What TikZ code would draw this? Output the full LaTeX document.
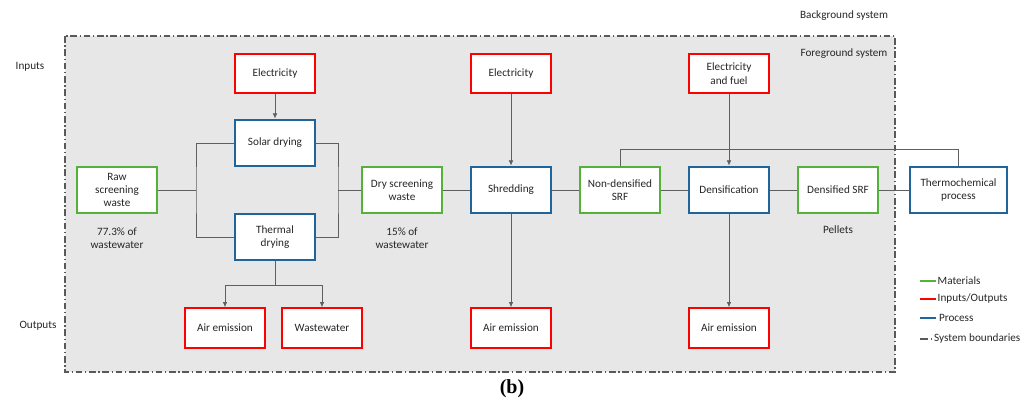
\documentclass[tikz,border=0pt]{standalone}
\usepackage{fontspec}
\setmainfont{Carlito}
\newfontfamily\capfont{Liberation Serif}
\usetikzlibrary{arrows.meta}

\definecolor{matgreen}{RGB}{84,178,58}
\definecolor{ioRed}{RGB}{255,0,0}
\definecolor{procblue}{RGB}{31,100,155}
\definecolor{sysgray}{RGB}{231,231,231}
\definecolor{linegray}{RGB}{95,95,95}

\tikzset{
  box/.style={rectangle, draw, line width=1.5pt, fill=white,
    minimum width=60pt, align=center, text=black!85,
    font=\fontsize{8.4}{10}\selectfont},
  material/.style={box, draw=matgreen, minimum height=35pt},
  inout/.style={box, draw=ioRed, minimum height=29.5pt},
  process/.style={box, draw=procblue, minimum height=35pt},
  flow/.style={draw=linegray, line width=0.6pt},
  label/.style={align=center, text=black!85, font=\fontsize{8.4}{10}\selectfont},
  boundary/.style={draw=black!65, line width=0.8pt,
    dash pattern=on 5pt off 2pt on 1pt off 2pt},
}

\begin{document}
\begin{tikzpicture}[x=0.75pt, y=-0.75pt, >={Latex[length=4pt,width=3.5pt]}]
  \useasboundingbox (0,0) rectangle (1021,403);

  % system boundaries
  \fill[sysgray] (65,36) rectangle (895,372);
  \draw[boundary] (65,36) rectangle (895,372);
  \node[label] (bg) at (844,16) {Background system};
  \node[label] (fg) at (844,54) {Foreground system};
  \node[label] (in) at (30,67) {Inputs};
  \node[label] (out) at (38,326) {Outputs};

  % inputs
  \node[inout] (e1) at (275,73.5) {Electricity};
  \node[inout] (e2) at (511,73.5) {Electricity};
  \node[inout] (ef) at (729,73.5) {Electricity\\and fuel};

  % main line
  \node[material] (raw) at (117,190) {Raw\\screening\\waste};
  \node[process] (solar) at (275,143) {Solar drying};
  \node[process] (thermal) at (275,237) {Thermal\\drying};
  \node[material] (dry) at (402,190) {Dry screening\\waste};
  \node[process] (shred) at (511,190) {Shredding};
  \node[material] (nsrf) at (620,190) {Non-densified\\SRF};
  \node[process] (dens) at (729,190) {Densification};
  \node[material] (dsrf) at (838,190) {Densified SRF};
  \node[process, minimum width=72.75pt] (thermo) at (958.5,190) {Thermochemical\\process};

  \node[label] (w1) at (117,238) {77.3\% of\\wastewater};
  \node[label] (w2) at (402,238) {15\% of\\wastewater};
  \node[label] (pel) at (838,230) {Pellets};

  % outputs
  \node[inout] (a1) at (225,328) {Air emission};
  \node[inout] (ww) at (322,328) {Wastewater};
  \node[inout] (a2) at (511,328) {Air emission};
  \node[inout] (a3) at (729,328) {Air emission};

  \coordinate (lb) at (196,190);
  \coordinate (rb) at (338,190);
  \coordinate (tb) at (275,285);

  \draw[flow] (raw) -- (lb);
  \draw[flow] (solar.west) -| (lb) |- (thermal.west);
  \draw[flow] (solar.east) -| (rb) |- (thermal.east);
  \draw[flow] (rb) -- (dry);
  \draw[flow] (dry) -- (shred);
  \draw[flow] (shred) -- (nsrf);
  \draw[flow] (nsrf) -- (dens);
  \draw[flow] (dens) -- (dsrf);
  \draw[flow] (dsrf) -- (thermo);
  \draw[flow] (nsrf.north) -- ++(0,-16) -| (thermo.north);

  \draw[flow,->] (e1) -- (solar);
  \draw[flow,->] (e2) -- (shred);
  \draw[flow,->] (ef) -- (dens);
  \draw[flow] (thermal) -- (tb);
  \draw[flow,->] (tb) -| (a1);
  \draw[flow,->] (tb) -| (ww);
  \draw[flow,->] (shred) -- (a2);
  \draw[flow,->] (dens) -- (a3);

  % legend
  \coordinate (lg1) at (920,281);
  \coordinate (lg2) at (920,299);
  \coordinate (lg3) at (920,318);
  \coordinate (lg4) at (920,339);
  \draw[matgreen, line width=1.5pt] (lg1) -- ++(16,0) node[label, anchor=west, inner sep=0.5pt] (lm) {Materials};
  \draw[ioRed, line width=1.5pt] (lg2) -- ++(16,0) node[label, anchor=west, inner sep=0.5pt] (lio) {Inputs/Outputs};
  \draw[procblue, line width=1.5pt] (lg3) -- ++(16,0) node[label, anchor=west, inner sep=1.5pt] (lp) {Process};
  \draw[boundary, dash pattern=on 6pt off 2.5pt on 0.8pt off 6pt] (lg4) -- ++(13,0) node[label, anchor=west, inner sep=0.5pt] (lsb) {System boundaries};

  \node[font=\capfont\bfseries\fontsize{15}{17}\selectfont] (cap) at (512,389) {(b)};
\end{tikzpicture}
\end{document}
